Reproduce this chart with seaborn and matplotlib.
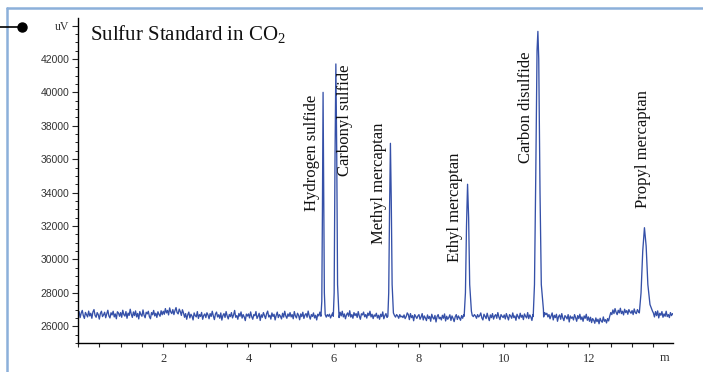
import numpy as np
import pandas as pd
import matplotlib.pyplot as plt
import seaborn as sns
from matplotlib.lines import Line2D
from matplotlib.ticker import MultipleLocator

# --- baseline (uV), one value every 0.025 min from 0.000 to 13.975 (one row = 1 min) ---
BASE_START = 0.0
BASE_STEP = 0.025
baseline_uv = [
    26600, 26880, 26520, 26790, 26950, 26640, 26470, 26830, 26700, 26560, 26910, 26620, 26780, 26480, 26860, 27000, 26650, 26540, 26820, 26700,
    26430, 26770, 26900, 26580, 26690, 26840, 26510, 26750, 26960, 26620, 26500, 26810, 26680, 26900, 26560, 26740, 26450, 26870, 26790, 26600,
    26820, 26540, 26960, 26700, 26610, 26880, 26480, 26790, 26650, 27020, 26720, 26530, 26860, 26640, 26920, 26560, 26770, 26440, 26880, 26700,
    26600, 26980, 26660, 26510, 26840, 26740, 26900, 26580, 26450, 26820, 26690, 26950, 26620, 26780, 26530, 26870, 26710, 26600, 26930, 26690,
    26900, 26720, 27060, 26800, 26950, 26680, 27100, 26860, 26760, 27000, 26700, 26940, 27120, 26820, 26740, 27030, 26880, 26650, 26990, 26800,
    26540, 26760, 26420, 26690, 26850, 26500, 26720, 26610, 26380, 26800, 26640, 26560, 26880, 26470, 26700, 26590, 26830, 26420, 26650, 26740,
    26520, 26810, 26680, 26450, 26760, 26590, 26900, 26620, 26400, 26730, 26850, 26560, 26690, 26480, 26800, 26370, 26650, 26760, 26530, 26880,
    26620, 26440, 26710, 26580, 26820, 26500, 26680, 26950, 26540, 26640, 26420, 26770, 26600, 26860, 26490, 26700, 26560, 26340, 26730, 26610,
    26740, 26500, 26860, 26580, 26420, 26700, 26630, 26880, 26470, 26600, 26780, 26350, 26690, 26540, 26820, 26640, 26460, 26760, 26910, 26560,
    26660, 26430, 26800, 26590, 26720, 26380, 26650, 26850, 26520, 26700, 26600, 26440, 26780, 26550, 26900, 26620, 26480, 26740, 26590, 26820,
    26560, 26700, 26450, 26880, 26620, 26500, 26780, 26660, 26390, 26740, 26580, 26840, 26470, 26680, 26760, 26540, 26910, 26620, 26430, 26700,
    26590, 26800, 26500, 26660, 26380, 26720, 26620, 26850, 26530, 26700, 26460, 26780, 26620, 26550, 26700, 26600, 26720, 26500, 26660, 26800,
    26640, 26700, 26580, 26760, 26680, 26520, 26840, 26620, 26900, 26560, 26740, 26450, 26690, 26800, 26600, 26930, 26550, 26700, 26480, 26820,
    26640, 26760, 26530, 26880, 26610, 26420, 26750, 26680, 26850, 26570, 26700, 26490, 26790, 26640, 26900, 26560, 26720, 26460, 26680, 26600,
    26780, 26500, 26660, 26420, 26720, 26580, 26860, 26450, 26640, 26760, 26530, 26690, 26380, 26800, 26600, 26520, 26740, 26650, 26550, 26700,
    26620, 26480, 26700, 26560, 26610, 26520, 26680, 26460, 26580, 26800, 26700, 26400, 26760, 26520, 26640, 26330, 26700, 26580, 26470, 26620,
    26700, 26420, 26560, 26760, 26380, 26620, 26500, 26340, 26680, 26470, 26590, 26300, 26720, 26520, 26430, 26650, 26260, 26580, 26700, 26450,
    26540, 26380, 26660, 26480, 26740, 26320, 26600, 26420, 26530, 26690, 26350, 26620, 26480, 26280, 26570, 26700, 26410, 26620, 26500, 26360,
    26640, 26480, 26700, 26520, 26600, 26420, 26680, 26550, 26600, 26520, 26650, 26580, 26700, 26620, 26480, 26700, 26560, 26640, 26800, 26500,
    26380, 26720, 26600, 26460, 26780, 26540, 26340, 26680, 26520, 26760, 26430, 26620, 26700, 26480, 26820, 26560, 26400, 26700, 26600, 26520,
    26680, 26440, 26760, 26560, 26380, 26700, 26620, 26480, 26800, 26520, 26620, 26360, 26720, 26580, 26450, 26780, 26540, 26660, 26400, 26740,
    26600, 26500, 26820, 26460, 26680, 26560, 26350, 26700, 26620, 26800, 26540, 26700, 26600, 26650, 26700, 26600, 26780, 26560, 26820, 26700,
    26780, 26560, 26700, 26450, 26620, 26800, 26380, 26660, 26520, 26720, 26300, 26580, 26680, 26420, 26760, 26500, 26340, 26640, 26560, 26440,
    26700, 26260, 26620, 26480, 26560, 26380, 26700, 26520, 26300, 26640, 26460, 26720, 26400, 26560, 26300, 26620, 26480, 26720, 26360, 26560,
    26300, 26540, 26220, 26460, 26360, 26180, 26500, 26280, 26420, 26150, 26480, 26320, 26240, 26560, 26300, 26400, 26200, 26460, 26320, 26600,
    26820, 26700, 26980, 26760, 27060, 26840, 26700, 26960, 26800, 27080, 26760, 26900, 26680, 27020, 26820, 26940, 26720, 27000, 26860, 26780,
    26940, 26700, 27040, 26820, 26760, 27000, 26880, 26900, 26900, 26900, 26900, 26900, 26900, 26900, 26900, 26900, 26900, 26900, 26900, 26900,
    26800, 26560, 26880, 26640, 26920, 26500, 26780, 26660, 26880, 26540, 26740, 26600, 26900, 26580, 26700, 26520, 26820, 26640, 26760, 26700,
]

# --- peaks: names, profile times (min) and signal (uV) ---
peak_names = ["Hydrogen sulfide", "Carbonyl sulfide", "Methyl mercaptan",
              "Ethyl mercaptan", "Carbon disulfide", "Propyl mercaptan"]
peak_times = [
    [5.70, 5.72, 5.735, 5.75, 5.765, 5.78, 5.80],
    [5.99, 6.01, 6.03, 6.05, 6.07, 6.09, 6.12],
    [7.27, 7.29, 7.31, 7.33, 7.35, 7.37, 7.40],
    [9.06, 9.09, 9.115, 9.14, 9.165, 9.19, 9.23],
    [10.68, 10.71, 10.74, 10.77, 10.79, 10.81, 10.84, 10.87, 10.92],
    [13.17, 13.21, 13.25, 13.29, 13.33, 13.37, 13.42, 13.48],
]
peak_signal = [
    [26600, 27500, 33000, 40000, 33500, 28000, 26700],
    [26600, 28000, 36000, 41700, 36500, 28500, 26800],
    [26600, 28000, 33000, 36950, 33500, 28500, 26800],
    [26600, 28000, 32000, 34500, 32500, 28500, 26900],
    [26600, 28500, 35000, 42500, 43650, 42000, 34000, 28500, 27000],
    [26800, 28000, 30500, 31900, 30800, 28500, 27300, 26900],
]
# label anchor: x centre (min) and bottom of rotated text (uV)
label_x = [5.49, 6.27, 7.07, 8.85, 10.52, 13.26]
label_y = [32900, 35000, 30900, 29850, 35750, 33050]

TRACE_COLOR = "#3550a8"
FRAME_COLOR = "#8cb0da"
SERIF = ["Liberation Serif", "DejaVu Serif"]

# build the trace
base = pd.DataFrame({
    "time": BASE_START + BASE_STEP * np.arange(len(baseline_uv)),
    "signal": baseline_uv,
})
for t in peak_times:
    base = base[(base["time"] < t[0] - 1e-9) | (base["time"] > t[-1] + 1e-9)]
parts = [base] + [pd.DataFrame({"time": t, "signal": s}) for t, s in zip(peak_times, peak_signal)]
trace = pd.concat(parts).sort_values("time").reset_index(drop=True)

sns.set_style("ticks")
plt.rcParams["mathtext.fontset"] = "custom"
plt.rcParams["mathtext.rm"] = "Liberation Serif"

fig = plt.figure(figsize=(7.03, 3.72), dpi=100)
ax = fig.add_axes([78 / 703, 29 / 372, (673 - 78) / 703, (343 - 18) / 372])

sns.lineplot(data=trace, x="time", y="signal", ax=ax, estimator=None,
             sort=False, color=TRACE_COLOR, linewidth=0.95)

ax.set_xlim(0, 13.96)
ax.set_ylim(25000, 44450)
sns.despine(ax=ax)
for s in ["left", "bottom"]:
    ax.spines[s].set_color("black")
    ax.spines[s].set_linewidth(1.0)

ax.set_xlabel("")
ax.set_ylabel("")

# x ticks
ax.set_xticks([2, 4, 6, 8, 10, 12])
ax.xaxis.set_minor_locator(MultipleLocator(0.5))
ax.tick_params(axis="x", which="both", length=3, width=0.8, direction="out", pad=4)
for lab in ax.get_xticklabels():
    lab.set_fontfamily(SERIF)
    lab.set_fontsize(9)
    lab.set_color("#333333")
ax.text(13.88, -0.045, "m", transform=ax.get_xaxis_transform(), ha="right", va="center",
        family=SERIF, fontsize=9, color="#333333")

# y ticks
yt = list(range(26000, 44001, 2000))
ax.set_yticks(yt)
ax.set_yticklabels([str(v) for v in yt[:-1]] + ["uV"])
ax.yaxis.set_minor_locator(MultipleLocator(500))
ax.tick_params(axis="y", which="major", length=4, width=0.8, direction="out", pad=2)
ax.tick_params(axis="y", which="minor", length=2.5, width=0.7, direction="out")
for lab in ax.get_yticklabels():
    lab.set_fontfamily(["Liberation Sans", "DejaVu Sans"])
    lab.set_fontsize(7.5)
    lab.set_color("#333333")
ylabs = ax.get_yticklabels()
ylabs[-1].set_fontfamily(SERIF)
ylabs[-1].set_fontsize(8.5)

# peak labels
for name, x, y in zip(peak_names, label_x, label_y):
    ax.text(x, y, name, rotation=90, ha="center", va="bottom",
            family=SERIF, fontsize=12, color="#111111")

# title
fig.text(90 / 703, (372 - 40) / 372, r"Sulfur Standard in CO$_\mathrm{2}$",
         ha="left", va="baseline", family=SERIF, fontsize=15, color="#111111")

# frame and connector
fy = (372 - 8) / 372
fx = 7 / 703
fig.add_artist(Line2D([fx, 1.0], [fy, fy], color=FRAME_COLOR, lw=1.8, transform=fig.transFigure))
fig.add_artist(Line2D([fx, fx], [0, fy], color=FRAME_COLOR, lw=1.8, transform=fig.transFigure))
cy = (372 - 27) / 372
fig.add_artist(Line2D([0, 22 / 703], [cy, cy], color="black", lw=1.2, transform=fig.transFigure))
fig.add_artist(Line2D([22 / 703], [cy], color="black", marker="o", markersize=6.5,
                      transform=fig.transFigure))

fig.savefig("out.png", dpi=100)
